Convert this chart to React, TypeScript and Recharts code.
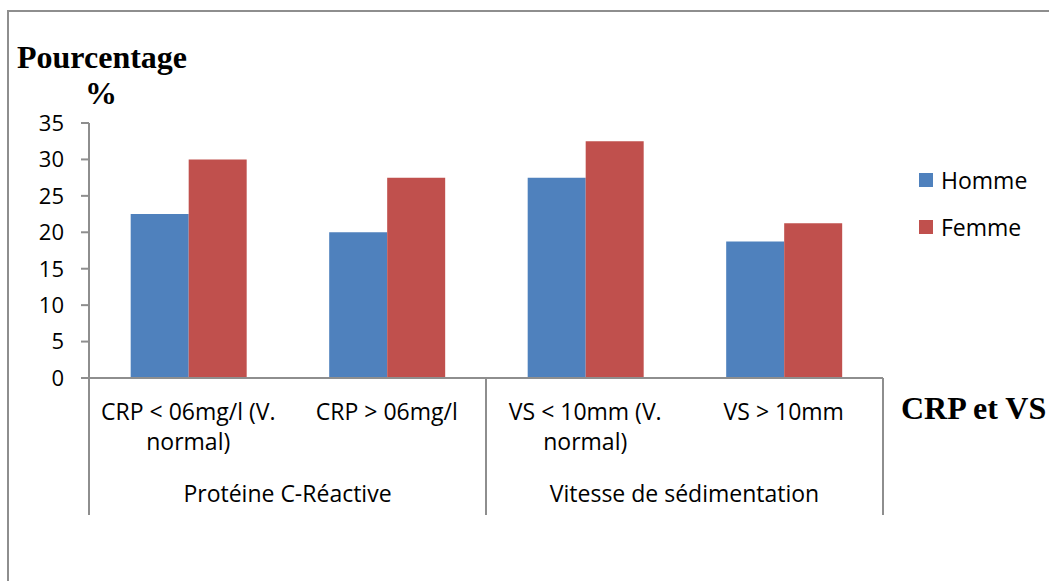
import React from 'react';
import { BarChart, Bar, XAxis, YAxis, Legend } from 'recharts';

// Categories, grouped two by two under a parent heading
const categories = [
  'CRP < 06mg/l (V. normal)',
  'CRP > 06mg/l',
  'VS < 10mm (V. normal)',
  'VS > 10mm',
];
const groups = ['Protéine C-Réactive', 'Vitesse de sédimentation'];
const categoriesPerGroup = 2;

// Series, in legend order
const seriesNames = ['Homme', 'Femme'];

// Percentages per sex
const hommeValues = [22.5, 20, 27.5, 18.75];
const femmeValues = [30, 27.5, 32.5, 21.25];

const yTicks = [0, 5, 10, 15, 20, 25, 30, 35];

const data = categories.map((category, i) => ({
  category,
  Homme: hommeValues[i],
  Femme: femmeValues[i],
}));

const WIDTH = 1049;
const HEIGHT = 581;
const SANS = '"Open Sans", "Noto Sans", sans-serif';
const SERIF = '"Liberation Serif", "Times New Roman", serif';
const AXIS = '#8e8e8e';
const BLUE = '#4F81BD';
const RED = '#C0504D';
const TEXT_SIZE = 23;
const AXIS_BAND = 137;

// Greedy word wrap on a character budget
function wrapLabel(text: string, maxChars: number): string[] {
  const words = text.split(' ');
  const lines: string[] = [];
  let current = '';
  for (const w of words) {
    const next = current ? current + ' ' + w : w;
    if (next.length > maxChars && current) {
      lines.push(current);
      current = w;
    } else {
      current = next;
    }
  }
  if (current) lines.push(current);
  return lines;
}

// Two-level category tick: item label, group divider lines and group heading
const CategoryTick = (props: any) => {
  const { x, y, payload, index } = props;
  const half = payload && typeof payload.offset === 'number' ? payload.offset : 0;
  const lines = wrapLabel(String(payload.value), 16);
  const startsGroup = index % categoriesPerGroup === 0;
  const isLast = index === categories.length - 1;
  const groupCenter = x - half + half * categoriesPerGroup;
  return (
    <g>
      {lines.map((line, k) => (
        <text
          key={k}
          x={x}
          y={y + 42 + k * 30}
          textAnchor="middle"
          fontFamily={SANS}
          fontSize={TEXT_SIZE}
          fill="#000"
        >
          {line}
        </text>
      ))}
      {startsGroup && (
        <line x1={x - half} x2={x - half} y1={y} y2={y + AXIS_BAND} stroke={AXIS} strokeWidth={2} />
      )}
      {isLast && (
        <line x1={x + half} x2={x + half} y1={y} y2={y + AXIS_BAND} stroke={AXIS} strokeWidth={2} />
      )}
      {startsGroup && (
        <text
          x={groupCenter}
          y={y + 124}
          textAnchor="middle"
          fontFamily={SANS}
          fontSize={TEXT_SIZE}
          fill="#000"
        >
          {groups[Math.floor(index / categoriesPerGroup)]}
        </text>
      )}
    </g>
  );
};

const LegendContent = (props: any) => {
  const items = [...(props.payload || [])].sort(
    (a: any, b: any) => seriesNames.indexOf(a.value) - seriesNames.indexOf(b.value)
  );
  return (
    <div style={{ fontFamily: SANS, fontSize: TEXT_SIZE, color: '#000' }}>
      {items.map((entry: any) => (
        <div
          key={entry.value}
          style={{ display: 'flex', alignItems: 'center', height: 47, whiteSpace: 'nowrap' }}
        >
          <span
            style={{
              display: 'inline-block',
              width: 14,
              height: 14,
              background: entry.color,
              marginRight: 8,
            }}
          />
          <span>{entry.value}</span>
        </div>
      ))}
    </div>
  );
};

export default function App() {
  return (
    <div style={{ position: 'absolute', left: 0, top: 0, width: WIDTH, height: HEIGHT, background: '#fff' }}>
      <div
        style={{
          position: 'absolute',
          left: 7,
          top: 10,
          width: WIDTH - 7,
          height: HEIGHT - 10,
          borderTop: `2px solid ${AXIS}`,
          borderLeft: `2px solid ${AXIS}`,
          boxSizing: 'border-box',
        }}
      />
      <BarChart
        width={WIDTH}
        height={HEIGHT}
        data={data}
        margin={{ top: 123, right: 166, bottom: HEIGHT - 378 - AXIS_BAND, left: 29 }}
        barCategoryGap="21%"
        barGap={0}
      >
        <XAxis
          dataKey="category"
          height={AXIS_BAND}
          interval={0}
          tickLine={false}
          tickSize={0}
          tickMargin={0}
          axisLine={{ stroke: AXIS, strokeWidth: 2 }}
          tick={<CategoryTick />}
        />
        <YAxis
          width={60}
          domain={[0, 35]}
          ticks={yTicks}
          interval={0}
          tickSize={8}
          tickMargin={17}
          axisLine={{ stroke: AXIS, strokeWidth: 2 }}
          tickLine={{ stroke: AXIS, strokeWidth: 2 }}
          tick={{ fontFamily: SANS, fontSize: 22, fill: '#000' }}
        />
        <Legend
          layout="vertical"
          align="center"
          verticalAlign="middle"
          content={<LegendContent />}
          wrapperStyle={{ position: 'absolute', left: 919, top: 156, width: 'auto', right: 'auto', bottom: 'auto' }}
        />
        <Bar dataKey="Homme" name="Homme" fill={BLUE} isAnimationActive={false} />
        <Bar dataKey="Femme" name="Femme" fill={RED} isAnimationActive={false} />
      </BarChart>
      <svg
        width={WIDTH}
        height={HEIGHT}
        style={{ position: 'absolute', left: 0, top: 0, pointerEvents: 'none' }}
      >
        <text x={17} y={68} fontFamily={SERIF} fontWeight="bold" fontSize={32} fill="#000">
          Pourcentage
        </text>
        <text x={101} y={104} textAnchor="middle" fontFamily={SERIF} fontWeight="bold" fontSize={32} fill="#000">
          %
        </text>
        <text x={901} y={419} fontFamily={SERIF} fontWeight="bold" fontSize={32} fill="#000">
          CRP et VS
        </text>
      </svg>
    </div>
  );
}
